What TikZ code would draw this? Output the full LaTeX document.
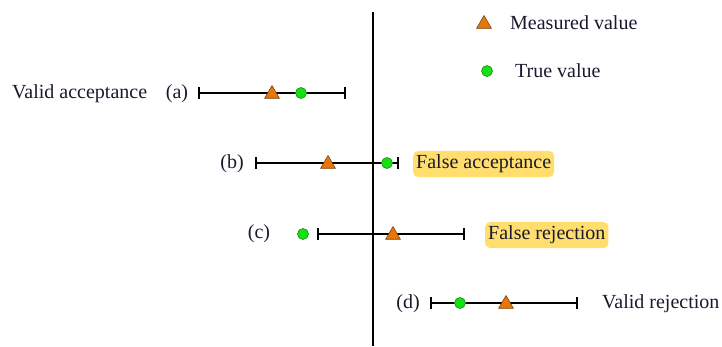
\documentclass[tikz,border=0pt]{standalone}
\usepackage{fontspec}
\setmainfont{Liberation Serif}
\usetikzlibrary{shapes.geometric}
\definecolor{measfill}{RGB}{232,118,10}
\definecolor{measdraw}{RGB}{120,70,20}
\definecolor{truefill}{RGB}{20,225,20}
\definecolor{truedraw}{RGB}{20,140,20}
\definecolor{hilite}{RGB}{255,222,110}
\definecolor{txt}{RGB}{25,25,45}
\tikzset{
  meas/.style={regular polygon, regular polygon sides=3, fill=measfill, draw=measdraw,
    line width=0.6pt, minimum size=17pt, inner sep=0pt},
  truev/.style={circle, fill=truefill, draw=truedraw, line width=0.6pt,
    minimum size=11pt, inner sep=0pt},
  lbl/.style={font=\fontsize{20}{24}\selectfont, text=txt, inner sep=0pt},
  tag/.style={lbl, fill=hilite, rounded corners=5pt, inner xsep=3pt, inner ysep=4pt},
  bar/.style={line width=1.1pt, black},
  tick/.style={line width=1.1pt, black},
}
\begin{document}
\begin{tikzpicture}[x=1pt,y=-1pt]
  \useasboundingbox (0,0) rectangle (722,346);

  % limit line
  \coordinate (lt) at (373,12);
  \coordinate (lb) at (373,346);
  \draw[line width=1.1pt] (lt) -- (lb);

  % legend
  \node[meas] (lgm) at (484,24) {};
  \node[lbl, anchor=west] (lgmt) at (510,23) {Measured value};
  \node[truev] (lgt) at (487,71) {};
  \node[lbl, anchor=west] (lgtt) at (515,71) {True value};

  % (a) valid acceptance
  \coordinate (a1) at (199,93);
  \coordinate (a2) at (345,93);
  \draw[bar] (a1) -- (a2);
  \draw[tick] ([yshift=-6]a1) -- ([yshift=6]a1);
  \draw[tick] ([yshift=-6]a2) -- ([yshift=6]a2);
  \node[meas] (am) at (272,94) {};
  \node[truev] (at) at (301,93) {};
  \node[lbl] (al) at (177,94) {(a)};
  \node[lbl, anchor=west] (an) at (12,94) {Valid acceptance};

  % (b) false acceptance
  \coordinate (b1) at (256,163);
  \coordinate (b2) at (398,163);
  \draw[bar] (b1) -- (b2);
  \draw[tick] ([yshift=-6]b1) -- ([yshift=6]b1);
  \draw[tick] ([yshift=-6]b2) -- ([yshift=6]b2);
  \node[meas] (bm) at (328,164) {};
  \node[truev] (bt) at (387,163) {};
  \node[lbl] (bl) at (232,164) {(b)};
  \node[tag, anchor=west] (bn) at (413,164) {False acceptance};

  % (c) false rejection
  \coordinate (c1) at (318,234);
  \coordinate (c2) at (464,234);
  \draw[bar] (c1) -- (c2);
  \draw[tick] ([yshift=-6]c1) -- ([yshift=6]c1);
  \draw[tick] ([yshift=-6]c2) -- ([yshift=6]c2);
  \node[meas] (cm) at (393,235) {};
  \node[truev] (ct) at (303,234) {};
  \node[lbl] (cl) at (259,234) {(c)};
  \node[tag, anchor=west] (cn) at (485,235) {False rejection};

  % (d) valid rejection
  \coordinate (d1) at (431,303);
  \coordinate (d2) at (577,303);
  \draw[bar] (d1) -- (d2);
  \draw[tick] ([yshift=-6]d1) -- ([yshift=6]d1);
  \draw[tick] ([yshift=-6]d2) -- ([yshift=6]d2);
  \node[meas] (dm) at (506,304) {};
  \node[truev] (dt) at (460,303) {};
  \node[lbl] (dl) at (408,304) {(d)};
  \node[lbl, anchor=west] (dn) at (602,304) {Valid rejection};
\end{tikzpicture}
\end{document}
